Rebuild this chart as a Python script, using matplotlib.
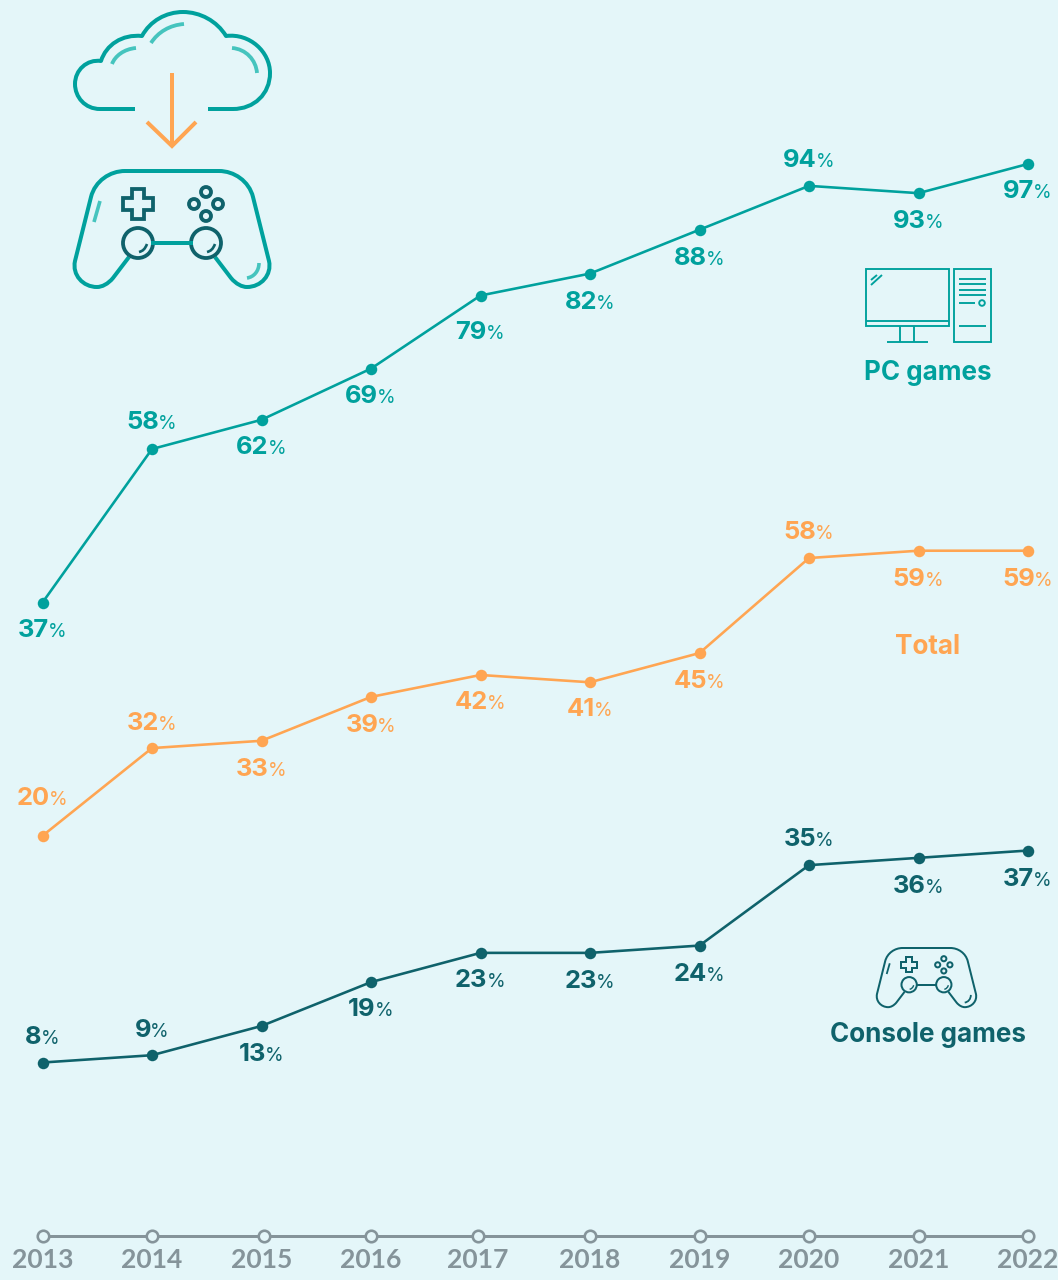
"""Cloud gaming adoption by platform, 2013-2022: three offset line series with icons."""

import matplotlib

matplotlib.use("Agg")
import matplotlib.pyplot as plt
from matplotlib.patches import Circle, PathPatch, Polygon, Rectangle
from matplotlib.path import Path

years = [2013, 2014, 2015, 2016, 2017, 2018, 2019, 2020, 2021, 2022]
pc_games = [37, 58, 62, 69, 79, 82, 88, 94, 93, 97]
total = [20, 32, 33, 39, 42, 41, 45, 58, 59, 59]
console_games = [8, 9, 13, 19, 23, 23, 24, 35, 36, 37]

# label offset from its point in pixels, positive means above the line
pc_label_dy = [-25, 29, -25, -25, -34, -26, -26, 28, -26, -25]
total_label_dy = [40, 27, -26, -26, -25, -25, -26, 28, -26, -26]
console_label_dy = [28, 27, -26, -25, -25, -26, -26, 28, -26, -26]

BACKGROUND = "#E4F6F9"
TEAL = "#00A19D"
LIGHT_TEAL = "#45C4BE"
ORANGE = "#FFA552"
DARK_TEAL = "#0F626B"
GREY = "#85949A"

WIDTH, HEIGHT = 1058, 1280
PX_PER_YEAR = 109.5
PX_PER_POINT = 7.31
FONT = "Inter"
YEAR_FONT = "Lato"


def px(width):
    """Convert a width in pixels to points at 100 dpi."""
    return width * 0.72


def series_axes(fig, zero_y):
    """Create a transparent axes for one series, its zero placed at pixel row zero_y."""
    ax = fig.add_axes([0, 0, 1, 1])
    ax.patch.set_visible(False)
    ax.axis("off")
    ax.set_xlim(2013 - 42.5 / PX_PER_YEAR, 2013 + (WIDTH - 42.5) / PX_PER_YEAR)
    ax.set_ylim((zero_y - HEIGHT) / PX_PER_POINT, zero_y / PX_PER_POINT)
    return ax


def draw_series(fig, zero_y, values, label_dy, color):
    """Draw a line with dots and a number-plus-percent label at each point."""
    ax = series_axes(fig, zero_y)
    ax.plot(years, values, color=color, lw=px(2.6), marker="o", ms=px(11.5),
            mew=0, clip_on=False, solid_joinstyle="round")
    renderer = fig.canvas.get_renderer()
    for year, value, dy in zip(years, values, label_dy):
        number = ax.annotate(str(value), (year, value), xytext=(0, 0),
                             textcoords="offset pixels", color=color,
                             family=FONT, weight="bold", size=px(25.5),
                             ha="left", va="baseline")
        percent = ax.annotate("%", (year, value), xytext=(0, 0),
                              textcoords="offset pixels", color=color,
                              family=FONT, size=px(19),
                              ha="left", va="baseline")
        w_number = number.get_window_extent(renderer).width
        w_percent = percent.get_window_extent(renderer).width
        left = -(w_number + w_percent) / 2
        number.xyann = (left, dy - 9)
        percent.xyann = (left + w_number - 1, dy - 9)


def stroke(ax, verts, codes, color, lw):
    """Add an unfilled path given in pixel coordinates."""
    ax.add_patch(PathPatch(Path(verts, codes), fc="none", ec=color, lw=px(lw),
                           capstyle="butt", joinstyle="round"))


def curve_path(start, *segments):
    """Build path data from a start point and line (1 point) or bezier (3 points) segments."""
    verts = [start]
    codes = [Path.MOVETO]
    for seg in segments:
        verts.extend(seg)
        codes.extend([Path.LINETO] if len(seg) == 1 else [Path.CURVE4] * 3)
    return verts, codes


def draw_cloud(ax):
    verts, codes = curve_path(
        (135, 109),
        [(100, 109)],
        [(85, 109), (75, 97), (75, 84)],
        [(75, 70), (87, 59), (101, 61)],
        [(106, 45), (122, 34), (142, 36)],
        [(150, 21), (166, 12), (183, 12)],
        [(200, 12), (217, 21), (226, 36)],
        [(250, 33), (270, 52), (270, 73)],
        [(270, 94), (254, 109), (233, 109)],
        [(208, 109)],
    )
    stroke(ax, verts, codes, TEAL, 4)
    for start, seg in [
        ((151, 43), [(158, 32), (170, 25), (184, 24)]),
        ((112, 64), [(115, 56), (124, 49), (136, 48)]),
        ((232, 48), [(246, 49), (256, 60), (257, 73)]),
    ]:
        verts, codes = curve_path(start, seg)
        stroke(ax, verts, codes, LIGHT_TEAL, 3.8)

    ax.plot([172, 172], [73, 146], color=ORANGE, lw=px(4), solid_capstyle="butt")
    ax.plot([147, 172, 196], [122, 146, 122], color=ORANGE, lw=px(4),
            solid_capstyle="butt", solid_joinstyle="miter")


def draw_controller(ax, ox, oy, scale, body_color, detail_color, accent_color, lw, detail_lw):
    """Draw a gamepad; source coordinates span x 75-270, y 171-287 before scaling."""

    def at(x, y):
        return ox + (x - 75) * scale, oy + (y - 171) * scale

    def move(*points):
        return [at(*p) for p in points]

    verts, codes = curve_path(
        at(129, 257),
        [at(113, 278)],
        move((108, 284), (102, 287), (97, 287)),
        move((83, 287), (72, 275), (75, 261)),
        [at(91, 197)],
        move((95, 181), (110, 171), (125, 171)),
        [at(219, 171)],
        move((234, 171), (249, 181), (253, 197)),
        [at(269, 261)],
        move((272, 275), (261, 287), (247, 287)),
        move((242, 287), (236, 284), (231, 278)),
        [at(215, 257)],
    )
    stroke(ax, verts, codes, body_color, lw)
    ax.plot(*zip(at(153, 243), at(191, 243)), color=body_color, lw=px(lw))

    # thumbsticks and their glints
    for cx in (138, 206):
        ax.add_patch(Circle(at(cx, 243), 15 * scale, fc="none", ec=detail_color, lw=px(detail_lw)))
        verts, codes = curve_path(at(cx + 9, 244), move((cx + 7, 249), (cx + 5, 251), (cx + 1, 252)))
        stroke(ax, verts, codes, detail_color, detail_lw * 0.7)

    # d-pad
    h, a = 15, 6
    cross = [(-a, -h), (a, -h), (a, -a), (h, -a), (h, a), (a, a), (a, h), (-a, h),
             (-a, a), (-h, a), (-h, -a), (-a, -a)]
    ax.add_patch(Polygon([at(138 + x, 204 + y) for x, y in cross], closed=True,
                         fc="none", ec=detail_color, lw=px(detail_lw), joinstyle="miter"))

    # face buttons
    for bx, by in [(206, 192), (206, 216), (194, 204), (218, 204)]:
        ax.add_patch(Circle(at(bx, by), 5 * scale, fc="none", ec=detail_color, lw=px(detail_lw)))

    # body highlights
    ax.plot(*zip(at(100, 201), at(94, 222)), color=accent_color, lw=px(lw * 0.9), solid_capstyle="butt")
    verts, codes = curve_path(at(259, 263), move((259, 271), (254, 277), (247, 278)))
    stroke(ax, verts, codes, accent_color, lw * 0.9)


def draw_pc(ax):
    lw = 1.9
    ax.add_patch(Rectangle((866, 269), 83, 57, fc="none", ec=TEAL, lw=px(lw)))
    ax.add_patch(Rectangle((954, 269), 37, 73, fc="none", ec=TEAL, lw=px(lw)))
    segments = [
        ((866, 321), (949, 321)),
        ((900, 326), (900, 342)),
        ((914, 326), (914, 342)),
        ((887, 342), (928, 342)),
        ((871, 280), (877, 275)),
        ((871, 285), (882, 275)),
        ((959, 279), (986, 279)),
        ((959, 284), (986, 284)),
        ((959, 290), (986, 290)),
        ((959, 295), (986, 295)),
        ((959, 303), (975, 303)),
        ((959, 326), (986, 326)),
    ]
    for a, b in segments:
        ax.plot(*zip(a, b), color=TEAL, lw=px(lw), solid_capstyle="butt")
    ax.add_patch(Circle((982, 303), 2.8, fc="none", ec=TEAL, lw=px(lw)))


def draw_year_axis(fig):
    """Draw the baseline with hollow year markers and the year labels."""
    marker_nudge = [0, 0, 2, 0, -3, 0, 0, 0, 0, 0]
    label_nudge = [0, 0, 0, 0, -3, 0, 0, 0, 0, 0]
    ax = series_axes(fig, 1235.5)
    ax.plot(years, [0] * len(years), color=GREY, lw=px(3), solid_capstyle="butt")
    marker_x = [y + n / PX_PER_YEAR for y, n in zip(years, marker_nudge)]
    ax.plot(marker_x, [0] * len(years), ls="none", marker="o", ms=px(11.5),
            mfc=BACKGROUND, mec=GREY, mew=px(2.6))
    for year, nudge in zip(years, label_nudge):
        ax.annotate(str(year), (year, 0), xytext=(nudge, -33),
                    textcoords="offset pixels", ha="center", va="baseline",
                    color=GREY, family=YEAR_FONT, weight="bold", size=px(26.5),
                    annotation_clip=False)


def main():
    fig = plt.figure(figsize=(WIDTH / 100, HEIGHT / 100), dpi=100, facecolor=BACKGROUND)

    icons = fig.add_axes([0, 0, 1, 1])
    icons.set_xlim(0, WIDTH)
    icons.set_ylim(HEIGHT, 0)
    icons.axis("off")

    draw_cloud(icons)
    draw_controller(icons, 75, 171, 1.0, TEAL, DARK_TEAL, LIGHT_TEAL, 4, 3.8)
    draw_controller(icons, 877, 948, 0.51, DARK_TEAL, DARK_TEAL, DARK_TEAL, 2.0, 2.0)
    draw_pc(icons)

    for label, y, color in [("PC games", 380, TEAL), ("Total", 654, ORANGE),
                            ("Console games", 1042, DARK_TEAL)]:
        icons.text(928, y, label, color=color, family=FONT, weight="bold",
                   size=px(26), ha="center", va="baseline")

    draw_series(fig, 873, pc_games, pc_label_dy, TEAL)
    draw_series(fig, 982, total, total_label_dy, ORANGE)
    draw_series(fig, 1121, console_games, console_label_dy, DARK_TEAL)
    draw_year_axis(fig)

    fig.savefig("out.png", dpi=100, facecolor=BACKGROUND)


if __name__ == "__main__":
    main()
